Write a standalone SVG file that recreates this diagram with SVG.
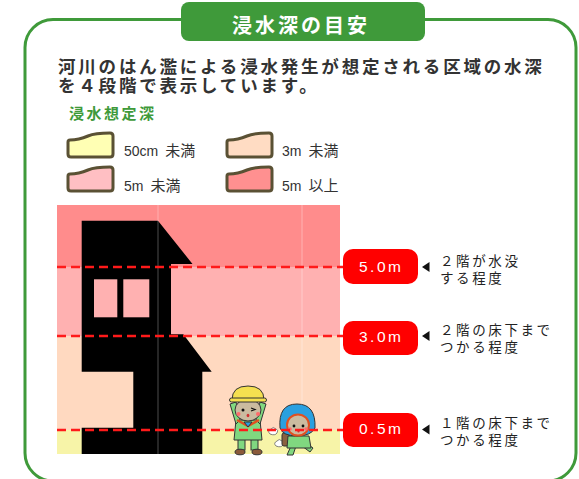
<svg xmlns="http://www.w3.org/2000/svg" width="579" height="479" viewBox="0 0 579 479">
  <style>
    .jp { font-family: "Noto Sans CJK JP", "Noto Sans", sans-serif; }
    .lead { font-size: 17.5px; font-weight: bold; fill: #333; letter-spacing: 2.8px; }
    .legend-title { font-size: 15px; font-weight: bold; fill: #3f9a3a; letter-spacing: 2.5px; }
    .legend-label { font-size: 15px; fill: #333; }
    .latin { font-family: "Liberation Sans", Arial, sans-serif; font-size: 14px; }
    .note { font-size: 13.5px; fill: #222; letter-spacing: 2.6px; }
    .badge { fill: #ff0000; }
    .badge-text { font-family: "Liberation Sans", Arial, sans-serif; font-size: 15.5px; fill: #fff; letter-spacing: 2.5px; }
    .swatch { stroke: #5a5134; stroke-width: 3; stroke-linejoin: round; }
    .level { stroke: #ff1a1a; stroke-width: 2.5; stroke-dasharray: 9 5; fill: none; }
    .pointer { fill: #111; }
    .ink { stroke: #333; stroke-width: 1; }
  </style>
  <defs>
    <path id="wave" d="M2,7 C8,7 13,6 20,3 C27,0 36,0 42,0 Q45,0 45,3 L45,21 Q45,24 42,24 L3,24 Q0,24 0,21 L0,9 Q0,7 2,7 Z"/>
  </defs>

  <!-- outer frame -->
  <rect x="25" y="19.5" width="551" height="461.5" rx="28" fill="#fff" stroke="#3f9a3a" stroke-width="3"/>

  <!-- title tab -->
  <g id="title">
    <rect x="181" y="2" width="244" height="39" rx="8" fill="#3f9a3a"/>
    <text class="jp" x="232" y="33" font-size="20" font-weight="bold" fill="#fff" letter-spacing="3">浸水深の目安</text>
  </g>

  <!-- lead text -->
  <g id="lead">
    <text class="jp lead" x="58" y="73">河川のはん濫による浸水発生が想定される区域の水深</text>
    <text class="jp lead" x="58" y="92">を４段階で表示しています。</text>
  </g>

  <!-- legend -->
  <g id="legend">
    <text class="jp legend-title" x="69" y="119">浸水想定深</text>
    <use href="#wave" class="swatch" x="68" y="133" fill="#ffffb4"/>
    <text class="jp legend-label" x="124" y="156"><tspan class="latin">50cm</tspan><tspan dx="7">未満</tspan></text>
    <use href="#wave" class="swatch" x="227" y="133" fill="#ffdcc3"/>
    <text class="jp legend-label" x="282" y="156"><tspan class="latin">3m</tspan><tspan dx="7">未満</tspan></text>
    <use href="#wave" class="swatch" x="68" y="167" fill="#ffbfc3"/>
    <text class="jp legend-label" x="124" y="191"><tspan class="latin">5m</tspan><tspan dx="7">未満</tspan></text>
    <use href="#wave" class="swatch" x="227" y="167" fill="#ff9090"/>
    <text class="jp legend-label" x="282" y="191"><tspan class="latin">5m</tspan><tspan dx="7">以上</tspan></text>
  </g>

  <!-- depth bands -->
  <g id="bands">
    <rect x="57" y="205" width="283" height="62" fill="#ff8c8c"/>
    <rect x="57" y="267" width="283" height="69" fill="#ffb1b1"/>
    <rect x="57" y="336" width="283" height="94" fill="#ffd9c0"/>
    <rect x="57" y="430" width="283" height="24" fill="#f7f4a8"/>
  </g>

  <!-- house silhouette -->
  <g id="house">
    <path d="M81.7,220.7 L158,220.7 L192.5,264 L171,264 L171,334.3 L183.3,334.3 L211.7,371.7 L202.3,371.7 L202.3,454 L81.7,454 L81.7,427.7 L133.3,427.7 L133.3,371.7 L81.7,371.7 Z" fill="#000"/>
    <rect x="94" y="279.3" width="23.3" height="38" fill="#ffb1b1"/>
    <rect x="123.3" y="279.3" width="26" height="38" fill="#ffb1b1"/>
  </g>

  <!-- faint tile seams -->
  <line x1="158" y1="205" x2="158" y2="454" stroke="#fff" stroke-opacity="0.3" stroke-width="1"/>
  <line x1="302" y1="205" x2="302" y2="430" stroke="#fff" stroke-opacity="0.35" stroke-width="1"/>

  <!-- boy in helmet -->
  <g id="boy">
    <rect x="238" y="436" width="7" height="14" fill="#80d880" class="ink"/>
    <rect x="251" y="436" width="7" height="14" fill="#80d880" class="ink"/>
    <ellipse cx="240" cy="452" rx="5" ry="2.8" fill="#8a5a3a" class="ink"/>
    <ellipse cx="257" cy="452" rx="5" ry="2.8" fill="#8a5a3a" class="ink"/>
    <path d="M236,420 L260,420 L262,440 L234,440 Z" fill="#80d880" class="ink"/>
    <path d="M236,424 L230,404 L236,402 L240,420 Z" fill="#80d880" class="ink"/>
    <path d="M260,424 L266,404 L260,402 L256,420 Z" fill="#80d880" class="ink"/>
    <ellipse cx="248" cy="410" rx="13" ry="11" fill="#cbbba0" class="ink"/>
    <path d="M232,400 Q232,386 248,386 Q264,386 264,400 Z" fill="#f5e050" class="ink"/>
    <rect x="229.5" y="398" width="37" height="4" rx="2" fill="#f5e050" class="ink"/>
    <circle cx="243" cy="410" r="1.5" fill="#111"/>
    <path d="M251,408 l4,1.5 l-4,1.5" fill="none" stroke="#111" stroke-width="1.2"/>
    <circle cx="238.5" cy="414" r="2" fill="#ff6a6a"/>
    <circle cx="258" cy="414" r="2" fill="#ff6a6a"/>
    <ellipse cx="248" cy="415.5" rx="1.4" ry="1.8" fill="#d03030"/>
    <path d="M237,420 L248,426 L259,420" fill="none" stroke="#e05020" stroke-width="2.5"/>
    <path d="M244,422 L252,422 L248,427 Z" fill="#2aa0e0" class="ink"/>
  </g>

  <!-- girl in hood -->
  <g id="girl">
    <path d="M270,434 q-3,-3 1,-5 q2,-3 5,0 q3,1 1,4 q-2,3 -7,1 Z" fill="#fff" stroke="#666" stroke-width="0.8"/>
    <path d="M276,446 q-3,-3 1,-5 q2,-3 5,0 q3,1 1,4 q-2,3 -7,1 Z" fill="#fff" stroke="#666" stroke-width="0.8"/>
    <rect x="282" y="433" width="8" height="13" rx="2" fill="#8a6040" class="ink"/>
    <path d="M291,446 L287,455 L293,455 L296,446 Z" fill="#80d880" class="ink"/>
    <path d="M302,446 L310,452 L313,448 L306,443 Z" fill="#80d880" class="ink"/>
    <path d="M288,436 L309,436 L311,448 L287,448 Z" fill="#80d880" class="ink"/>
    <path d="M280,428 Q278,404 297,404 Q316,404 315,428 Q311,436 297,436 Q283,436 280,428 Z" fill="#2aa0e0" class="ink"/>
    <ellipse cx="298" cy="425" rx="11" ry="10.5" fill="#cbbba0" stroke="#e05020" stroke-width="2"/>
    <circle cx="294" cy="426" r="1.4" fill="#111"/>
    <circle cx="303" cy="426" r="1.4" fill="#111"/>
    <circle cx="290" cy="429" r="1.8" fill="#ff6a6a"/>
    <circle cx="306" cy="429" r="1.8" fill="#ff6a6a"/>
    <ellipse cx="298.5" cy="431" rx="1.2" ry="1.6" fill="#d03030"/>
  </g>

  <!-- level lines -->
  <g id="connectors">
    <line class="level" x1="57" y1="267" x2="343" y2="267"/>
    <line class="level" x1="57" y1="336" x2="343" y2="336"/>
    <line class="level" x1="57" y1="430" x2="343" y2="430"/>
    <path class="pointer" d="M422,267 L429.5,262 L429.5,272 Z"/>
    <path class="pointer" d="M422,336 L429.5,331 L429.5,341 Z"/>
    <path class="pointer" d="M422,429.5 L429.5,424.5 L429.5,434.5 Z"/>
  </g>

  <!-- depth markers -->
  <g id="level-50">
    <rect class="badge" x="343" y="249" width="75" height="35" rx="10"/>
    <text class="badge-text" x="359" y="272">5.0m</text>
    <text class="jp note" x="440" y="266">２階が水没</text>
    <text class="jp note" x="440" y="283">する程度</text>
  </g>
  <g id="level-30">
    <rect class="badge" x="343" y="321" width="75" height="34" rx="10"/>
    <text class="badge-text" x="359" y="342">3.0m</text>
    <text class="jp note" x="440" y="335">２階の床下まで</text>
    <text class="jp note" x="440" y="352">つかる程度</text>
  </g>
  <g id="level-05">
    <rect class="badge" x="343" y="413" width="75" height="34" rx="10"/>
    <text class="badge-text" x="359" y="434">0.5m</text>
    <text class="jp note" x="440" y="428">１階の床下まで</text>
    <text class="jp note" x="440" y="445">つかる程度</text>
  </g>
</svg>
